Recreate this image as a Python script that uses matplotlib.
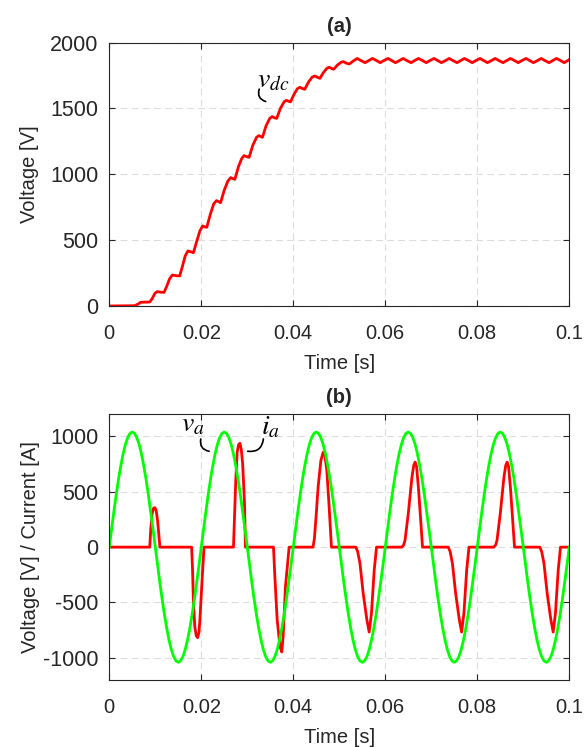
import matplotlib
matplotlib.use("Agg")
import matplotlib.pyplot as plt
import numpy as np

# ---------------- data ----------------
# (a) dc link voltage
t_dc = [0.0000, 0.0055, 0.0063, 0.0068, 0.0088, 0.0094, 0.0099, 0.0104, 0.0112, 0.0119,
        0.0125, 0.0131, 0.0137, 0.0146, 0.0153, 0.0159, 0.0165, 0.0171, 0.0178, 0.0183,
        0.0190, 0.0197, 0.0203, 0.0208, 0.0212, 0.0220, 0.0227, 0.0233, 0.0240, 0.0242,
        0.0250, 0.0258, 0.0264, 0.0270, 0.0273, 0.0281, 0.0288, 0.0293, 0.0300, 0.0304,
        0.0312, 0.0320, 0.0325, 0.0331, 0.0333, 0.0341, 0.0349, 0.0354, 0.0360, 0.0364,
        0.0372, 0.0380, 0.0385, 0.0391, 0.0394, 0.0402, 0.0409, 0.0414, 0.0421, 0.0425,
        0.0433, 0.0441, 0.0447, 0.0453, 0.0458, 0.0465, 0.0473, 0.0478, 0.0484, 0.0488,
        0.0496, 0.0504, 0.0509, 0.0516, 0.0522, 0.0531,
        0.0539, 0.0547, 0.0556, 0.0564, 0.0572, 0.0581, 0.0589, 0.0597, 0.0606, 0.0614,
        0.0622, 0.0631, 0.0639, 0.0647, 0.0656, 0.0664, 0.0672, 0.0681, 0.0689, 0.0697,
        0.0706, 0.0714, 0.0722, 0.0731, 0.0739, 0.0747, 0.0756, 0.0764, 0.0772, 0.0781,
        0.0789, 0.0797, 0.0806, 0.0814, 0.0822, 0.0831, 0.0839, 0.0847, 0.0856, 0.0864,
        0.0872, 0.0881, 0.0889, 0.0897, 0.0906, 0.0914, 0.0922, 0.0931, 0.0939, 0.0947,
        0.0956, 0.0964, 0.0972, 0.0981, 0.0989, 0.0997, 0.1000]
v_dc = [0, 2, 15, 28, 30, 60, 95, 109, 105, 103,
        150, 205, 235, 230, 228, 300, 380, 418, 410, 405,
        490, 570, 608, 600, 598, 700, 775, 800, 788, 785,
        880, 950, 975, 965, 962, 1060, 1120, 1142, 1132, 1129,
        1220, 1280, 1294, 1284, 1281, 1370, 1425, 1438, 1428, 1425,
        1500, 1550, 1562, 1553, 1550, 1610, 1650, 1661, 1650, 1646,
        1700, 1738, 1747, 1736, 1729, 1770, 1805, 1813, 1803, 1798,
        1830, 1851, 1856, 1843, 1838, 1862,
        1880, 1864, 1848, 1864, 1880, 1864, 1848, 1864, 1880, 1864,
        1848, 1864, 1880, 1864, 1848, 1864, 1880, 1864, 1848, 1864,
        1880, 1864, 1848, 1864, 1880, 1864, 1848, 1864, 1880, 1864,
        1848, 1864, 1880, 1864, 1848, 1864, 1880, 1864, 1848, 1864,
        1880, 1864, 1848, 1864, 1880, 1864, 1848, 1864, 1880, 1864,
        1848, 1864, 1880, 1864, 1848, 1864, 1872]

# (b) phase voltage, sampled every 0.5 ms
t_va = np.linspace(0, 0.1, 201)
v_a = [0, 163, 321, 472, 611, 735, 841, 927, 989, 1027, 1040, 1027, 989, 927, 841, 735, 611, 472, 321, 163,
       0, -163, -321, -472, -611, -735, -841, -927, -989, -1027, -1040, -1027, -989, -927, -841, -735, -611, -472, -321, -163,
       0, 163, 321, 472, 611, 735, 841, 927, 989, 1027, 1040, 1027, 989, 927, 841, 735, 611, 472, 321, 163,
       0, -163, -321, -472, -611, -735, -841, -927, -989, -1027, -1040, -1027, -989, -927, -841, -735, -611, -472, -321, -163,
       0, 163, 321, 472, 611, 735, 841, 927, 989, 1027, 1040, 1027, 989, 927, 841, 735, 611, 472, 321, 163,
       0, -163, -321, -472, -611, -735, -841, -927, -989, -1027, -1040, -1027, -989, -927, -841, -735, -611, -472, -321, -163,
       0, 163, 321, 472, 611, 735, 841, 927, 989, 1027, 1040, 1027, 989, 927, 841, 735, 611, 472, 321, 163,
       0, -163, -321, -472, -611, -735, -841, -927, -989, -1027, -1040, -1027, -989, -927, -841, -735, -611, -472, -321, -163,
       0, 163, 321, 472, 611, 735, 841, 927, 989, 1027, 1040, 1027, 989, 927, 841, 735, 611, 472, 321, 163,
       0, -163, -321, -472, -611, -735, -841, -927, -989, -1027, -1040, -1027, -989, -927, -841, -735, -611, -472, -321, -163,
       0]

# (b) phase current, breakpoints of the pulses
t_ia = [0.0000,
        0.0088, 0.0090, 0.0093, 0.0096, 0.0099, 0.0102, 0.0105, 0.0108, 0.0110,
        0.0179, 0.0181, 0.0183, 0.0186, 0.0189, 0.0192, 0.0195, 0.0197, 0.0203, 0.0206,
        0.0270, 0.0272, 0.0275, 0.0278, 0.0281, 0.0284, 0.0287, 0.0290, 0.0294, 0.0296,
        0.0357, 0.0360, 0.0365, 0.0371, 0.0375, 0.0378, 0.0383, 0.0391,
        0.0443, 0.0446, 0.0449, 0.0454, 0.0460, 0.0465, 0.0469, 0.0473, 0.0478, 0.0483,
        0.0536, 0.0540, 0.0545, 0.0552, 0.0560, 0.0565, 0.0570, 0.0576, 0.0581,
        0.0636, 0.0640, 0.0643, 0.0650, 0.0658, 0.0662, 0.0665, 0.0668, 0.0672, 0.0677, 0.0681,
        0.0737, 0.0741, 0.0746, 0.0753, 0.0761, 0.0766, 0.0771, 0.0777, 0.0782,
        0.0836, 0.0840, 0.0843, 0.0850, 0.0858, 0.0862, 0.0865, 0.0868, 0.0872, 0.0877, 0.0881,
        0.0936, 0.0940, 0.0945, 0.0952, 0.0960, 0.0965, 0.0970, 0.0976, 0.0981,
        0.1000]
i_a = [0,
       0, 150, 300, 350, 357, 330, 240, 100, 0,
       0, -200, -500, -720, -800, -818, -770, -656, -207, 0,
       0, 243, 603, 857, 925, 938, 880, 753, 393, 0,
       0, -267, -656, -896, -947, -806, -357, 0,
       0, 80, 243, 543, 782, 857, 820, 692, 362, 0,
       0, -40, -147, -417, -656, -767, -597, -207, 0,
       0, 20, 63, 303, 632, 740, 768, 730, 542, 243, 0,
       0, -40, -147, -417, -656, -767, -597, -207, 0,
       0, 20, 63, 303, 632, 740, 768, 730, 542, 243, 0,
       0, -40, -147, -417, -656, -767, -597, -207, 0,
       0]

x_ticks = [0, 0.02, 0.04, 0.06, 0.08, 0.1]
x_labels = ["0", "0.02", "0.04", "0.06", "0.08", "0.1"]
ya_ticks = [0, 500, 1000, 1500, 2000]
yb_ticks = [-1000, -500, 0, 500, 1000]

# ---------------- style (matlab look) ----------------
txt = "#262626"
plt.rcParams["font.family"] = ["Liberation Sans", "DejaVu Sans"]
plt.rcParams["font.size"] = 14.5
plt.rcParams["mathtext.fontset"] = "stix"
plt.rcParams["axes.unicode_minus"] = False
plt.rcParams["text.color"] = txt
plt.rcParams["axes.labelcolor"] = txt
plt.rcParams["xtick.color"] = txt
plt.rcParams["ytick.color"] = txt

fig = plt.figure(figsize=(5.85, 7.47), dpi=100)
ax1 = fig.add_axes([0.1868, 0.5904, 0.7863, 0.3525])
ax2 = fig.add_axes([0.1868, 0.0897, 0.7863, 0.3557])


def style(ax, yt):
    ax.set_xlim(0, 0.1)
    ax.set_xticks(x_ticks)
    ax.set_xticklabels(x_labels)
    ax.set_yticks(yt)
    ax.grid(True, color="#dcdcdc", linestyle=(0, (6, 4)), linewidth=0.8)
    ax.set_axisbelow(True)
    ax.tick_params(direction="in", length=4, width=0.8, top=True, right=True,
                   labelsize=14.5)
    ax.tick_params(axis="x", pad=13)
    ax.tick_params(axis="y", pad=8, labelsize=15.5)
    for s in ax.spines.values():
        s.set_color(txt)
        s.set_linewidth(0.8)
    ax.set_xlabel("Time [s]", labelpad=8)


# (a)
ax1.plot(t_dc, v_dc, color=(1, 0, 0), linewidth=2.0)
ax1.set_ylim(0, 2000)
style(ax1, ya_ticks)
ax1.set_ylabel("Voltage [V]", labelpad=8)
ax1.set_title("(a)", fontsize=14.5, fontweight="bold", pad=8)
ax1.text(0.0321, 1657, r"$v_{dc}$", fontsize=20, color="k")
ax1.annotate("", xy=(0.0340, 1553), xytext=(0.0326, 1647),
             arrowprops=dict(arrowstyle="-", color="k", linewidth=1.2,
                             connectionstyle="arc3,rad=0.5", shrinkA=0, shrinkB=0))

# (b)
ax2.plot(t_ia, i_a, color=(1, 0, 0), linewidth=2.0)
ax2.plot(t_va, v_a, color=(0, 1, 0), linewidth=2.0)
ax2.set_ylim(-1200, 1200)
style(ax2, yb_ticks)
ax2.set_ylabel("Voltage [V] / Current [A]", labelpad=2)
ax2.set_title("(b)", fontsize=14.5, fontweight="bold", pad=8)
ax2.text(0.0157, 1046, r"$v_a$", fontsize=20, color="k")
ax2.annotate("", xy=(0.0217, 866), xytext=(0.0199, 977),
             arrowprops=dict(arrowstyle="-", color="k", linewidth=1.2,
                             connectionstyle="arc3,rad=0.5", shrinkA=0, shrinkB=0))
ax2.text(0.0330, 1022, r"$i_a$", fontsize=20, color="k")
ax2.annotate("", xy=(0.0301, 866), xytext=(0.0335, 977),
             arrowprops=dict(arrowstyle="-", color="k", linewidth=1.2,
                             connectionstyle="arc3,rad=-0.5", shrinkA=0, shrinkB=0))

fig.savefig("out.png", dpi=100)
